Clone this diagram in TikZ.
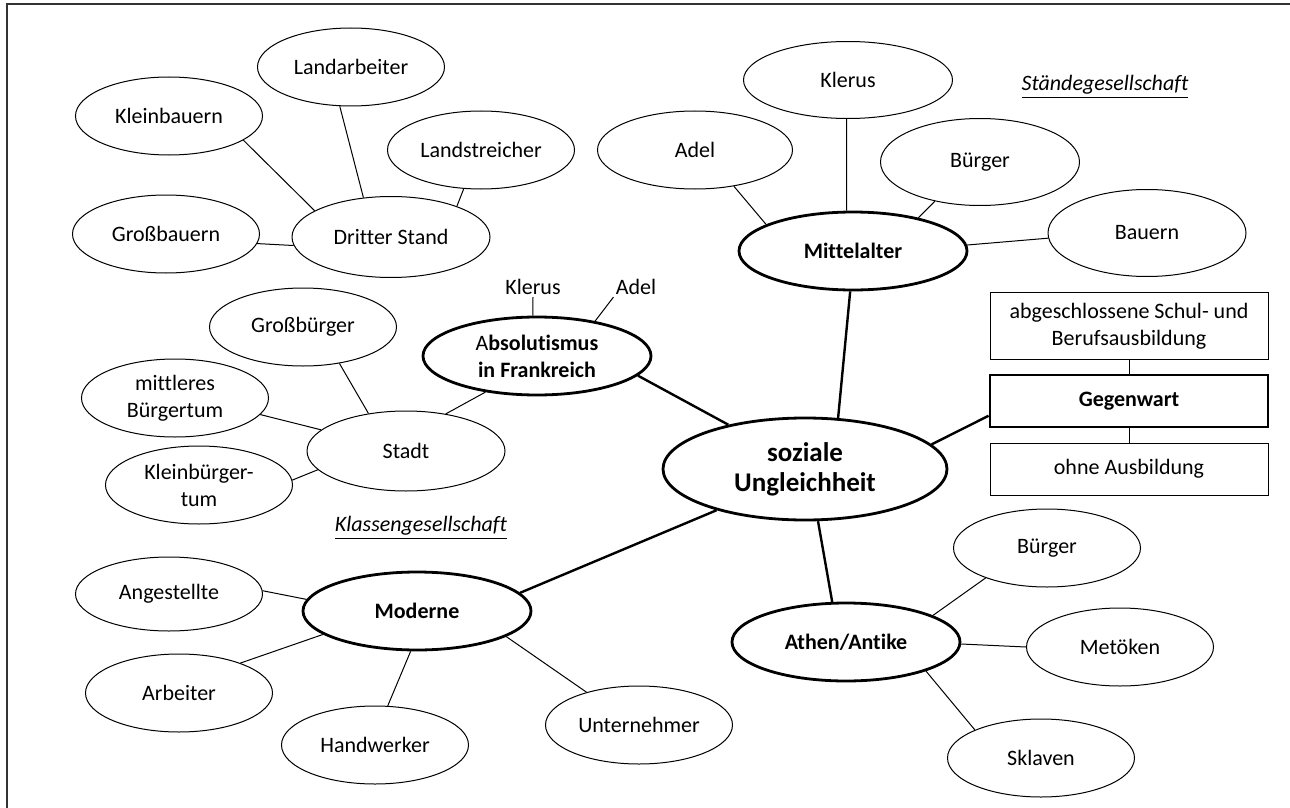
\documentclass[tikz,border=0pt]{standalone}
\usepackage{fontspec}
\setmainfont{Carlito}[Ligatures=NoCommon]
\usetikzlibrary{shapes.geometric}

\begin{document}
\begin{tikzpicture}[x=0.5pt,y=-0.5pt,
  oval/.style={draw,ellipse,line width=0.5pt,inner sep=0pt,minimum width=93.5pt,minimum height=39pt,align=center,font=\fontsize{11}{13.5}\selectfont},
  epoch/.style={oval,line width=1.4pt,minimum width=114pt,font=\fontsize{11}{13.5}\selectfont\bfseries},
  box/.style={draw,rectangle,line width=0.5pt,inner sep=0pt,minimum width=139pt,minimum height=26pt,align=center,font=\fontsize{11}{13.5}\selectfont},
  word/.style={inner sep=1pt,font=\fontsize{11}{13.5}\selectfont},
  twig/.style={line width=0.5pt},
  branch/.style={line width=1.2pt}]
%\draw[help lines] (0,0) grid[step=50] (1290,808);
\useasboundingbox (0,0) rectangle (1290,808);
\draw[line width=1pt,black!80] (1290,4) -- (7,4) -- (7,808);

% centre
\node[oval,line width=1.4pt,minimum width=142pt,minimum height=51pt,font=\fontsize{13.5}{15}\selectfont\bfseries] (soz) at (805,469) {soziale\\Ungleichheit};

% Dritter Stand
\node[oval] (landarb) at (351,67) {Landarbeiter};
\node[oval] (kleinb) at (169,116) {Kleinbauern};
\node[oval] (landstr) at (481,150) {Landstreicher};
\node[oval] (grossb) at (166,234) {Großbauern};
\node[oval,minimum width=99pt,minimum height=40.5pt] (dritter) at (391,237) {Dritter Stand};

\draw[twig] (kleinb.-18) -- (dritter.161);
\draw[twig] (landarb.254) -- (dritter.125);
\draw[twig] (landstr.246) -- (dritter.25);
\draw[twig] (grossb.-6) -- (dritter.185);

% Mittelalter
\node[oval,minimum width=97.5pt] (adel) at (695,150) {Adel};
\node[oval,minimum width=104.5pt,minimum height=38.5pt] (klerus) at (848,80) {Klerus};
\node[oval,minimum width=99.5pt,minimum height=43.5pt] (buerger) at (980,162) {Bürger};
\node[oval,minimum width=99pt,minimum height=43.5pt] (bauern) at (1147,233) {Bauern};
\node[epoch] (mittel) at (853,251) {Mittelalter};
\node[word] (staende) at (1105,87) {\underline{\textit{Ständegesellschaft}}};

\draw[twig] (adel.-43) -- (mittel.163);
\draw[twig] (klerus.268) -- (mittel.99);
\draw[twig] (buerger.221) -- (mittel.27);
\draw[twig] (bauern.183) -- (mittel.3);

% Absolutismus
\node[epoch] (absol) at (537,356) {{\mdseries A}bsolutismus\\in Frankreich};
\node[word] (absklerus) at (533,287) {Klerus};
\node[word] (absadel) at (636,287) {Adel};

\draw[twig] (absklerus.south) -- (absol.96);
\draw[twig] (absadel.south west) -- (absol.31);

% Stadt
\node[oval] (grossbg) at (303,327) {Großbürger};
\node[oval] (mittlbg) at (175,398) {mittleres\\Bürgertum};
\node[oval] (kleinbg) at (199,485) {Kleinbürger-\\tum};
\node[oval,minimum width=99pt,minimum height=40pt] (stadt) at (406,451) {Stadt};
\node[word] (klassen) at (421,528) {\underline{\textit{Klassengesellschaft}}};

\draw[twig] (grossbg.-45) -- (stadt.135);
\draw[twig] (mittlbg.-11) -- (stadt.166);
\draw[twig] (kleinbg.3) -- (stadt.192);
\draw[twig] (stadt.43) -- (absol.215);

% Gegenwart
\node[box,minimum height=33.5pt] (abschl) at (1129,326) {abgeschlossene Schul- und\\Berufsausbildung};
\node[box,line width=1.4pt,font=\fontsize{11}{13.5}\selectfont\bfseries] (gegen) at (1129,401) {Gegenwart};
\node[box] (ohne) at (1129,469) {ohne Ausbildung};

\draw[twig] (abschl.south) -- (gegen.north);
\draw[twig] (gegen.south) -- (ohne.north);

% Moderne
\node[oval,minimum height=37pt] (angest) at (169,594) {Angestellte};
\node[epoch] (moderne) at (417,611) {Moderne};
\node[oval] (arbeiter) at (179,693) {Arbeiter};
\node[oval] (handw) at (375,745) {Handwerker};
\node[oval] (untern) at (639,725) {Unternehmer};

\draw[twig] (angest.2) -- (moderne.174);
\draw[twig] (arbeiter.26) -- (moderne.194);
\draw[twig] (handw.72) -- (moderne.261);
\draw[twig] (untern.148) -- (moderne.-16);

% Athen
\node[oval] (abuerger) at (1047,548) {Bürger};
\node[epoch] (athen) at (846,642) {Athen/Antike};
\node[oval] (metoek) at (1120,647) {Metöken};
\node[oval] (sklaven) at (1041,758) {Sklaven};

\draw[twig] (abuerger.206) -- (athen.17);
\draw[twig] (metoek.180) -- (athen.-1);
\draw[twig] (sklaven.157) -- (athen.-20);

% to the centre
\draw[branch] (soz.57) -- (mittel.266);
\draw[branch] (soz.150) -- (absol.-11);
\draw[branch] (soz.11) -- (gegen.186);
\draw[branch] (soz.205) -- (moderne.10);
\draw[branch] (soz.284) -- (athen.109);
\end{tikzpicture}
\end{document}
